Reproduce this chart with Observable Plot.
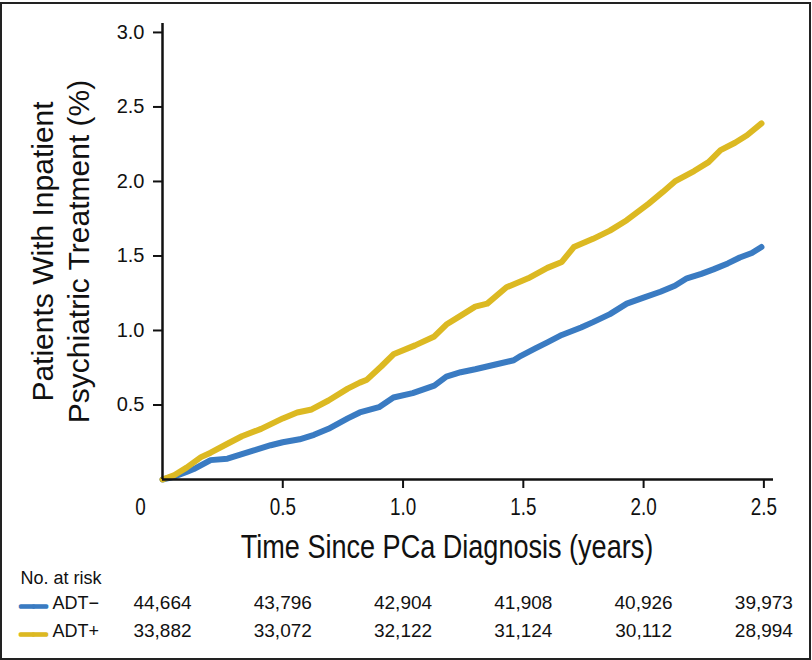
<!DOCTYPE html>
<html><head><meta charset="utf-8">
<script src="https://cdn.jsdelivr.net/npm/d3@7"></script>
<script src="https://cdn.jsdelivr.net/npm/@observablehq/plot@0.6"></script>
<style>
html,body{margin:0;padding:0;background:#fff;}
#wrap{position:relative;width:812px;height:660px;overflow:hidden;background:#fff;}
#border{position:absolute;left:0;top:2px;width:811px;height:658px;border:2.5px solid #222;box-sizing:border-box;pointer-events:none;}
#chart{position:absolute;left:0;top:0;}
</style></head><body>
<div id="wrap"><div id="chart"></div><div id="border"></div></div>
<script>
// ADT+ (yellow) cumulative incidence
const adtPlusTime = [0, 0.05, 0.10, 0.16, 0.20, 0.27, 0.33, 0.41, 0.50, 0.56, 0.62, 0.69, 0.77, 0.82, 0.85, 0.91, 0.96, 1.05, 1.13, 1.18, 1.24, 1.30, 1.35, 1.43, 1.52, 1.60, 1.66, 1.71, 1.79, 1.86, 1.93, 2.02, 2.08, 2.13, 2.21, 2.27, 2.32, 2.38, 2.43, 2.49];
const adtPlusPct  = [0, 0.03, 0.08, 0.15, 0.18, 0.24, 0.29, 0.34, 0.41, 0.45, 0.47, 0.53, 0.61, 0.65, 0.67, 0.76, 0.84, 0.90, 0.96, 1.04, 1.10, 1.16, 1.18, 1.29, 1.35, 1.42, 1.46, 1.56, 1.615, 1.67, 1.74, 1.85, 1.93, 2.00, 2.07, 2.13, 2.21, 2.26, 2.31, 2.39];
// ADT− (blue)
const adtMinusTime = [0, 0.05, 0.10, 0.13, 0.20, 0.27, 0.33, 0.38, 0.45, 0.50, 0.57, 0.63, 0.69, 0.77, 0.82, 0.90, 0.96, 1.04, 1.13, 1.18, 1.24, 1.30, 1.38, 1.46, 1.49, 1.55, 1.60, 1.66, 1.74, 1.79, 1.86, 1.93, 2.00, 2.07, 2.13, 2.18, 2.24, 2.29, 2.35, 2.40, 2.45, 2.49];
const adtMinusPct  = [0, 0.02, 0.05, 0.07, 0.13, 0.14, 0.17, 0.195, 0.23, 0.25, 0.27, 0.30, 0.34, 0.41, 0.45, 0.485, 0.55, 0.58, 0.63, 0.69, 0.72, 0.74, 0.77, 0.80, 0.83, 0.88, 0.92, 0.97, 1.02, 1.056, 1.11, 1.18, 1.22, 1.26, 1.30, 1.35, 1.38, 1.41, 1.45, 1.49, 1.52, 1.56];

const groups = ["ADT\u2212", "ADT+"];
const groupColors = ["#3A7BC2", "#DCB922"];
const riskTimes = [0, 0.5, 1.0, 1.5, 2.0, 2.5];
const riskAdtMinus = [44664, 43796, 42904, 41908, 40926, 39973];
const riskAdtPlus = [33882, 33072, 32122, 31124, 30112, 28994];
const xTicks = [0.5, 1.0, 1.5, 2.0, 2.5];
const yTicks = [0.5, 1.0, 1.5, 2.0, 2.5, 3.0];
const xTitle = "Time Since PCa Diagnosis (years)";
const yTitle = "Patients With Inpatient\nPsychiatric Treatment (%)";
const riskTitle = "No. at risk";

const lineData = [
  ...adtMinusTime.map((t, i) => ({group: groups[0], t, v: adtMinusPct[i]})),
  ...adtPlusTime.map((t, i) => ({group: groups[1], t, v: adtPlusPct[i]}))
];
const riskRows = [riskAdtMinus, riskAdtPlus];
const fmt = d3.format(",");
// "Narrow" text is drawn in Liberation Sans and then condensed horizontally below
const narrow = "'Liberation Sans', Arial, sans-serif, Narrow";
const sans = "'Liberation Sans', Arial, Helvetica, sans-serif";
const rowDy = [129, 157];

const riskMarks = [];
groups.forEach((g, k) => {
  riskMarks.push(Plot.text(riskTimes, {x: d => d, text: (d, i) => fmt(riskRows[k][i]), frameAnchor: "bottom", dy: rowDy[k], fontSize: 19, fontFamily: sans, fill: "#111"}));
  riskMarks.push(Plot.text([g], {text: d => d, frameAnchor: "bottom-left", dx: 52 - 162, dy: rowDy[k], textAnchor: "start", fontSize: 18, fontFamily: sans, fill: "#111"}));
  riskMarks.push(Plot.text([g], {text: () => "\u2014\u2014", frameAnchor: "bottom-left", dx: 20 - 162, dy: rowDy[k] + 1, textAnchor: "start", fontSize: 13, fontFamily: sans, fill: groupColors[k], stroke: groupColors[k], strokeWidth: 3.5}));
});

const chart = Plot.plot({
  width: 812,
  height: 660,
  marginLeft: 162,
  marginTop: 23,
  marginRight: 39,
  marginBottom: 181,
  style: {fontFamily: sans, background: "transparent", overflow: "visible", color: "#111"},
  x: {domain: [0, 2.54]},
  y: {domain: [0, 3.06]},
  color: {domain: groups, range: groupColors},
  marks: [
    Plot.line(lineData, {x: "t", y: "v", z: "group", stroke: "group", strokeWidth: 6, strokeLinecap: "round", strokeLinejoin: "round"}),
    Plot.ruleX([0], {stroke: "#111", strokeWidth: 2.5}),
    Plot.ruleY([0], {stroke: "#111", strokeWidth: 2.5}),
    Plot.axisY({ticks: yTicks, tickFormat: d3.format(".1f"), tickSize: 9, tickPadding: 9, fontSize: 20, label: null, strokeWidth: 2, stroke: "#111", fill: "#111"}),
    Plot.axisX({ticks: xTicks, tickFormat: d3.format(".1f"), tickSize: 9, tickPadding: 10, fontSize: 23, fontFamily: narrow, label: null, strokeWidth: 2, stroke: "#111", fill: "#111"}),
    Plot.text([0], {x: d => d, text: () => "0", frameAnchor: "bottom", lineAnchor: "top", dy: 19, dx: -22, fontSize: 23, fontFamily: narrow, fill: "#111"}),
    Plot.text([xTitle], {text: d => d, frameAnchor: "bottom", dx: -21, dy: 78, fontSize: 33, fontFamily: narrow, fill: "#111"}),
    Plot.text([yTitle], {text: d => d, frameAnchor: "left", textAnchor: "middle", dx: -103, rotate: -90, fontSize: 30, lineHeight: 1.2, fontFamily: sans, fill: "#111"}),
    Plot.text([riskTitle], {text: d => d, frameAnchor: "bottom-left", dx: 20 - 162, dy: 104, textAnchor: "start", fontSize: 18, fontFamily: sans, fill: "#111"}),
    ...riskMarks
  ]
});
document.getElementById("chart").appendChild(chart);
// condense the "narrow" texts (reference uses a condensed face)
d3.select(chart).selectAll('g[font-family*="Narrow"] text').each(function () {
  const w = this.getComputedTextLength();
  this.setAttribute("textLength", (w * 0.82).toFixed(1));
  this.setAttribute("lengthAdjust", "spacingAndGlyphs");
});
</script>
</body></html>
